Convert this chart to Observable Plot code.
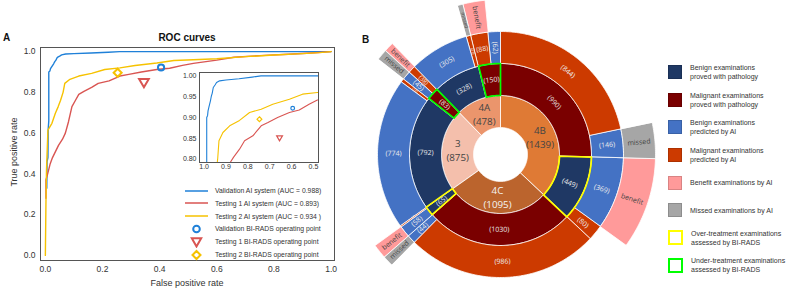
<!DOCTYPE html>
<html>
<head>
<meta charset="utf-8">
<script src="https://cdn.jsdelivr.net/npm/d3@7"></script>
<script src="https://cdn.jsdelivr.net/npm/@observablehq/plot@0.6"></script>
<style>
html,body{margin:0;padding:0;background:#fff;}
#root{position:relative;width:790px;height:293px;overflow:hidden;background:#fff;font-family:"Liberation Sans",Arial,sans-serif;color:#222;}
.abs{position:absolute;}
.bold{font-weight:bold;font-size:10px;color:#111;}
.legA{position:absolute;left:185px;height:12px;display:flex;align-items:center;font-size:6.8px;color:#333;white-space:nowrap;}
.legB{position:absolute;left:668px;display:flex;align-items:center;font-size:7px;color:#333;line-height:9px;white-space:nowrap;}
</style>
</head>
<body>
<div id="root"></div>
<script>
// ================= Panel A data (ROC curves) =================
const rocSeries = ["Validation AI system (AUC = 0.988)", "Testing 1 AI system (AUC = 0.893)", "Testing 2 AI system (AUC = 0.934 )"];
const pointSeries = ["Validation BI-RADS operating point", "Testing 1 BI-RADS operating point", "Testing 2 BI-RADS operating point"];
const rocColors = ["#1f80d8", "#d95552", "#f6c200"];

const validationFpr = [0.005, 0.006, 0.009, 0.010, 0.012, 0.012, 0.016, 0.018, 0.022, 0.029, 0.033, 0.037, 0.042, 0.050, 0.057, 0.071, 0.100, 0.160, 0.220, 0.260, 0.500, 1.000];
const validationTpr = [0.330, 0.460, 0.480, 0.620, 0.660, 0.900, 0.905, 0.916, 0.925, 0.940, 0.951, 0.958, 0.972, 0.978, 0.984, 0.988, 0.990, 0.993, 0.997, 1.000, 1.000, 1.000];

const testing1Fpr = [0.002, 0.002, 0.008, 0.017, 0.025, 0.046, 0.060, 0.070, 0.081, 0.093, 0.105, 0.117, 0.135, 0.162, 0.185, 0.223, 0.261, 0.292, 0.336, 0.390, 0.435, 0.480, 0.518, 0.600, 0.660, 0.750, 0.850, 0.930, 1.000];
const testing1Tpr = [0.280, 0.370, 0.400, 0.450, 0.480, 0.540, 0.570, 0.600, 0.656, 0.730, 0.760, 0.790, 0.805, 0.824, 0.844, 0.856, 0.880, 0.888, 0.900, 0.912, 0.918, 0.932, 0.942, 0.958, 0.972, 0.980, 0.987, 0.993, 1.000];

const testing2Fpr = [0.000, 0.002, 0.004, 0.009, 0.023, 0.035, 0.045, 0.053, 0.062, 0.068, 0.086, 0.117, 0.162, 0.208, 0.261, 0.314, 0.390, 0.450, 0.518, 0.600, 0.700, 0.800, 0.900, 0.960, 1.000];
const testing2Tpr = [0.000, 0.250, 0.420, 0.615, 0.648, 0.697, 0.730, 0.760, 0.800, 0.844, 0.864, 0.880, 0.893, 0.912, 0.920, 0.932, 0.944, 0.956, 0.960, 0.965, 0.975, 0.983, 0.990, 0.995, 1.000];

const operatingFpr = [0.405, 0.345, 0.253];
const operatingTpr = [0.922, 0.852, 0.896];

const xTicks = [0, 0.2, 0.4, 0.6, 0.8, 1.0];
const yTicks = [0, 0.2, 0.4, 0.6, 0.8, 1.0];
const insetXTicks = [1.0, 0.9, 0.8, 0.7, 0.6, 0.5];
const insetYTicks = [0.80, 0.85, 0.90, 0.95, 1.00];

// ================= Panel B data (sunburst) =================
const biradsCategories = ["4B", "4C", "3", "4A"];
const biradsCounts = [1439, 1095, 875, 478];
const pathologyParent = [0, 0, 1, 1, 2, 2, 3, 3];
const pathologyClass = ["malignant", "benign", "malignant", "benign", "benign", "malignant", "benign", "malignant"];
const pathologyCounts = [990, 449, 1030, 65, 792, 83, 328, 150];
const pathologyFlag = [null, "over", null, "over", null, "under", null, "under"];
const aiParent = [0, 0, 1, 1, 2, 2, 3, 3, 4, 4, 5, 5, 6, 6, 7, 7];
const aiClass = ["malignant", "benign", "benign", "malignant", "malignant", "benign", "benign", "malignant", "benign", "malignant", "benign", "malignant", "benign", "malignant", "malignant", "benign"];
const aiCounts = [844, 146, 369, 80, 986, 44, 58, 7, 774, 18, 45, 38, 305, 23, 88, 62];
const outcomeParent = [1, 2, 5, 6, 10, 11, 13, 14];
const outcomeLabels = ["missed", "benefit", "missed", "benefit", "missed", "benefit", "missed", "benefit"];

const legendKeys = ["pathBenign", "pathMalignant", "aiBenign", "aiMalignant", "benefit", "missed", "over", "under"];
const legendTexts = ["Benign examinations\nproved with pathology", "Malignant examinations\nproved with pathology", "Benign examinations\npredicted by AI", "Malignant examinations\npredicted by AI", "Benefit examinations by AI", "Missed examinations by AI", "Over-treatment examinations\nassessed by BI-RADS", "Under-treatment examinations\nassessed by BI-RADS"];

const colorKeys = ["4B", "4C", "3", "4A", "pathBenign", "pathMalignant", "aiBenign", "aiMalignant", "benefit", "missed", "over", "under"];
const colorValues = ["#df7a35", "#bb642d", "#f4bfac", "#eb956c", "#1f3864", "#7a0000", "#4472c4", "#cc3a00", "#ff9a9a", "#a6a6a6", "#ffff00", "#00ff00"];

// ================= Build Panel A =================
const root = document.getElementById("root");
function place(el, left, top) {
  const d = document.createElement("div");
  d.className = "abs"; d.style.left = left + "px"; d.style.top = top + "px";
  d.appendChild(el); root.appendChild(d); return d;
}
const rocRows = [];
[[validationFpr, validationTpr], [testing1Fpr, testing1Tpr], [testing2Fpr, testing2Tpr]].forEach(([f, t], k) => {
  f.forEach((v, i) => rocRows.push({series: rocSeries[k], fpr: v, tpr: t[i]}));
});
const opRows = operatingFpr.map((f, k) => ({series: pointSeries[k], fpr: f, tpr: operatingTpr[k], color: rocColors[k]}));

const triangleDown = {
  draw(context, size) {
    const y = Math.sqrt(size / (Math.sqrt(3) * 3));
    context.moveTo(0, 2 * y);
    context.lineTo(-Math.sqrt(3) * y, -y);
    context.lineTo(Math.sqrt(3) * y, -y);
    context.closePath();
  }
};
const opSymbols = ["circle", triangleDown, "diamond2"];
const opRadius = [3.1, 3.6, 3.6];
const fontA = "'Liberation Sans', Arial, sans-serif";

function opMarks(xf, scale, sw) {
  return opRows.map((d, k) => Plot.dot([d], {x: xf, y: "tpr", symbol: opSymbols[k], r: opRadius[k] * scale, stroke: d.color, strokeWidth: sw, fill: "none"}));
}

const mainPlot = Plot.plot({
  width: 345, height: 293,
  marginLeft: 40, marginRight: 11, marginTop: 47, marginBottom: 33,
  style: {fontFamily: fontA, fontSize: "8.5px", color: "#333", background: "transparent"},
  x: {domain: [-0.017, 1.012], ticks: xTicks, tickFormat: ".1f", tickSize: 0, tickPadding: 5, label: null},
  y: {domain: [-0.025, 1.02], ticks: yTicks, tickFormat: ".1f", tickSize: 0, tickPadding: 5, label: null},
  color: {domain: rocSeries, range: rocColors},
  marks: [
    Plot.line(rocRows, {x: "fpr", y: "tpr", z: "series", stroke: "series", strokeWidth: 1.4}),
    ...opMarks("fpr", 1, 2),
    Plot.frame({stroke: "#555", strokeWidth: 1})
  ]
});
place(mainPlot, 0, 0);

const insetPlot = Plot.plot({
  width: 150, height: 110,
  marginLeft: 24, marginRight: 7, marginTop: 7, marginBottom: 13,
  style: {fontFamily: fontA, fontSize: "7px", color: "#333", background: "transparent"},
  x: {domain: [1.021, 0.477], ticks: insetXTicks, tickFormat: ".1f", tickSize: 0, tickPadding: 2, label: null},
  y: {domain: [0.792, 1.008], ticks: insetYTicks, tickFormat: ".2f", tickSize: 0, tickPadding: 3, label: null},
  color: {domain: rocSeries, range: rocColors},
  marks: [
    Plot.frame({fill: "white"}),
    Plot.line(rocRows, {x: d => 1 - d.fpr, y: "tpr", z: "series", stroke: "series", strokeWidth: 1.1, clip: true}),
    ...opMarks(d => 1 - d.fpr, 0.6, 1.2),
    Plot.frame({stroke: "#555", strokeWidth: 1})
  ]
});
place(insetPlot, 175, 65);

// Panel A texts
function textDiv(txt, cls, left, top, extra) {
  const d = document.createElement("div");
  d.className = "abs " + (cls || ""); d.textContent = txt;
  d.style.left = left + "px"; d.style.top = top + "px";
  if (extra) Object.assign(d.style, extra);
  root.appendChild(d); return d;
}
textDiv("A", "bold", 3, 32);
textDiv("ROC curves", "bold", 137, 32, {width: "100px", textAlign: "center"});
textDiv("True positive rate", "", 14, 152, {fontSize: "9px", color: "#333", whiteSpace: "nowrap", transform: "translate(-50%,-50%) rotate(-90deg)"});
textDiv("False positive rate", "", 187, 283, {fontSize: "9px", color: "#333", whiteSpace: "nowrap", transform: "translate(-50%,-50%)"});
textDiv("B", "bold", 362, 34);

// Panel A legend
const legendIcons = [
  `<svg width="23" height="10"><line x1="0" x2="23" y1="5" y2="5" stroke="${rocColors[0]}" stroke-width="1.5"/></svg>`,
  `<svg width="23" height="10"><line x1="0" x2="23" y1="5" y2="5" stroke="${rocColors[1]}" stroke-width="1.5"/></svg>`,
  `<svg width="23" height="10"><line x1="0" x2="23" y1="5" y2="5" stroke="${rocColors[2]}" stroke-width="1.5"/></svg>`,
  `<svg width="23" height="12"><circle cx="11.5" cy="6" r="3.3" fill="none" stroke="${rocColors[0]}" stroke-width="2"/></svg>`,
  `<svg width="23" height="12"><path d="M11.5,10.5L6.8,2.3L16.2,2.3Z" fill="none" stroke="${rocColors[1]}" stroke-width="2"/></svg>`,
  `<svg width="23" height="12"><path d="M11.5,2L15.5,6L11.5,10L7.5,6Z" fill="none" stroke="${rocColors[2]}" stroke-width="2"/></svg>`
];
[...rocSeries, ...pointSeries].forEach((name, i) => {
  const row = document.createElement("div");
  row.className = "legA";
  row.style.top = (184.5 + i * 12.8) + "px";
  row.innerHTML = legendIcons[i] + `<span style="margin-left:7px">${name}</span>`;
  root.appendChild(row);
});

// ================= Build Panel B =================
const ringRadii = [27, 59, 91, 123, 155];
const total = d3.sum(biradsCounts);
const toDeg = v => v / total * 360;
function starts(counts) { let s = 0; return counts.map(c => { const a = s; s += c; return a; }); }
const biradsStart = starts(biradsCounts);
const pathStart = starts(pathologyCounts);
const aiStart = starts(aiCounts);

function arcFeature(c0, c1, ring, key, extra) {
  const a0 = toDeg(c0), a1 = toDeg(c1);
  const r0 = ringRadii[ring], r1 = ringRadii[ring + 1];
  const n = Math.max(2, Math.ceil((a1 - a0) / 0.75) + 1);
  const pts = [];
  for (let i = 0; i < n; i++) { const a = (a0 + (a1 - a0) * i / (n - 1)) * Math.PI / 180; pts.push([r1 * Math.sin(a), -r1 * Math.cos(a)]); }
  for (let i = n - 1; i >= 0; i--) { const a = (a0 + (a1 - a0) * i / (n - 1)) * Math.PI / 180; pts.push([r0 * Math.sin(a), -r0 * Math.cos(a)]); }
  pts.push(pts[0]);
  return {type: "Feature", properties: Object.assign({key, a0, a1, r0, r1}, extra || {}), geometry: {type: "Polygon", coordinates: [pts]}};
}

const segments = [];
biradsCounts.forEach((c, i) => segments.push(arcFeature(biradsStart[i], biradsStart[i] + c, 0, biradsCategories[i], {label: `(${c})`, name: biradsCategories[i], ring: 0})));
pathologyCounts.forEach((c, i) => segments.push(arcFeature(pathStart[i], pathStart[i] + c, 1, pathologyClass[i] === "benign" ? "pathBenign" : "pathMalignant", {label: `(${c})`, ring: 1, flag: pathologyFlag[i]})));
aiCounts.forEach((c, i) => segments.push(arcFeature(aiStart[i], aiStart[i] + c, 2, aiClass[i] === "benign" ? "aiBenign" : "aiMalignant", {label: `(${c})`, ring: 2})));
outcomeParent.forEach((p, i) => segments.push(arcFeature(aiStart[p], aiStart[p] + aiCounts[p], 3, outcomeLabels[i], {label: outcomeLabels[i], ring: 3})));

const flagged = segments.filter(f => f.properties.flag);

function labelFor(f, baseFs) {
  const {a0, a1, r0, r1, label} = f.properties;
  const am = (a0 + a1) / 2, rm = (r0 + r1) / 2;
  const rad = am * Math.PI / 180;
  const arc = (a1 - a0) * Math.PI / 180 * rm;
  const w = label.length * 0.5 * baseFs;
  const tang = (((am + 90) % 180) + 180) % 180 - 90;
  const radial = ((am % 180) + 180) % 180 - 90;
  let rotate, fs = baseFs;
  if (arc < w * 0.85) { rotate = radial; fs = Math.max(3.5, Math.min(baseFs, arc * 0.95)); }
  else rotate = Math.abs(tang) <= 50 ? tang : radial;
  return {x: rm * Math.sin(rad), y: -rm * Math.cos(rad), text: label, rotate, fs};
}
// ring 1: category name on one line, count on the next (two separate texts, offset in projected units = px)
const r1fs = 9.8, r1gap = 7;
const ring1Labels = [];
segments.filter(f => f.properties.ring === 0).forEach(f => {
  const {a0, a1, r0, r1} = f.properties; const am = (a0 + a1) / 2 * Math.PI / 180, rm = (r0 + r1) / 2;
  const x = rm * Math.sin(am), y = -rm * Math.cos(am);
  const dark = f.properties.key !== "4C";
  ring1Labels.push({x, y: y - r1gap, text: f.properties.name, dark});
  ring1Labels.push({x, y: y + r1gap, text: f.properties.label, dark});
});
const innerLabels = segments.filter(f => f.properties.ring === 1 || f.properties.ring === 2).map(f => labelFor(f, 7));
const outerLabels = segments.filter(f => f.properties.ring === 3).map(f => labelFor(f, 7));

const fontB = "'Open Sans', 'Noto Sans', sans-serif";
const sunburst = Plot.plot({
  width: 340, height: 340, margin: 0,
  projection: {type: "identity", domain: {type: "MultiPoint", coordinates: [[-170, -170], [170, 170]]}},
  color: {domain: colorKeys, range: colorValues},
  style: {background: "transparent", fontFamily: fontB},
  marks: [
    Plot.geo(segments, {fill: d => d.properties.key, stroke: "white", strokeWidth: 0.8}),
    Plot.geo(flagged, {fill: "none", stroke: d => d.properties.flag, strokeWidth: 1.7}),
    Plot.text(ring1Labels.filter(d => d.dark), {x: "x", y: "y", text: "text", fill: "#444", fontSize: r1fs}),
    Plot.text(ring1Labels.filter(d => !d.dark), {x: "x", y: "y", text: "text", fill: "#f4f4f4", fontSize: r1fs}),
    Plot.text(innerLabels, {x: "x", y: "y", text: "text", rotate: "rotate", fontSize: "fs", fill: "#ececec"}),
    Plot.text(outerLabels, {x: "x", y: "y", text: "text", rotate: "rotate", fontSize: "fs", fill: "#444"})
  ]
});
place(sunburst, 499.5 - 170, 154 - 170);

// Panel B legend
const colorOf = k => colorValues[colorKeys.indexOf(k)];
legendKeys.forEach((k, i) => {
  const row = document.createElement("div");
  row.className = "legB";
  const cy = 72.3 + i * 27.55;
  row.style.top = (cy - 9) + "px";
  row.style.height = "18px";
  const outline = k === "over" || k === "under";
  const sq = outline
    ? `<div style="width:11px;height:11px;border:2px solid ${colorOf(k)};background:#fff;flex:none"></div>`
    : `<div style="width:14px;height:14px;background:${colorOf(k)};flex:none;box-sizing:border-box;border:0.5px solid rgba(0,0,0,0.15)"></div>`;
  row.innerHTML = sq + `<div style="margin-left:8px;white-space:pre">${legendTexts[i]}</div>`;
  root.appendChild(row);
});
</script>
</body>
</html>
